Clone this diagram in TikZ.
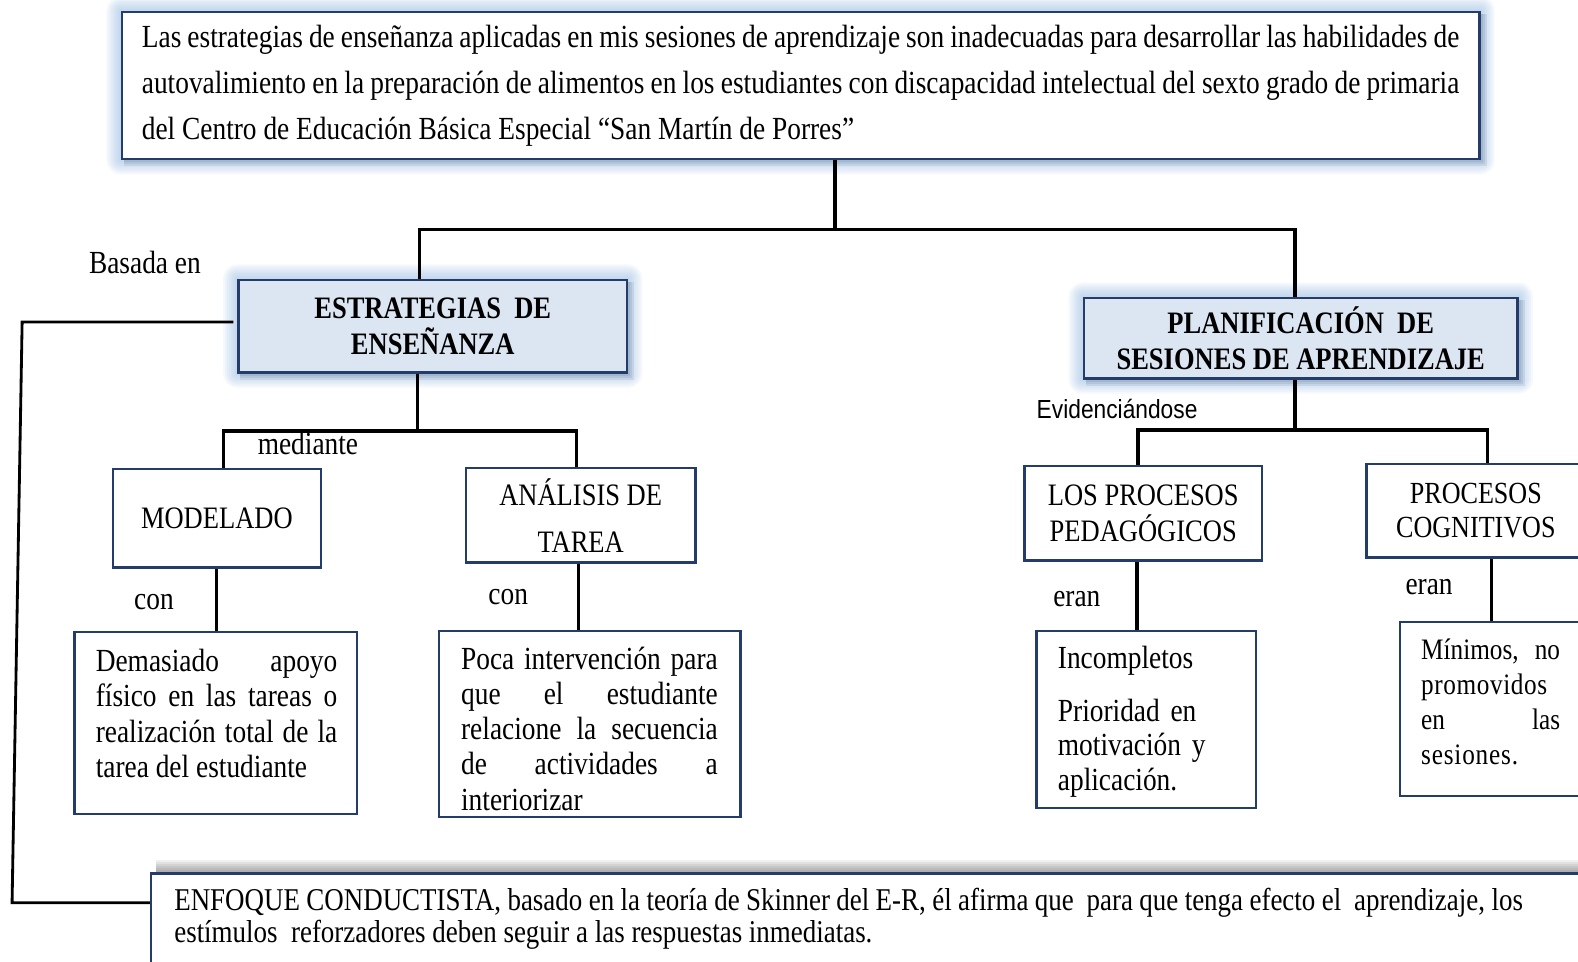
\documentclass[tikz,border=0pt]{standalone}
\usepackage{fontspec}
\setmainfont{Liberation Serif}[FakeStretch=0.85]
\newfontfamily\sansfam{Liberation Sans}[FakeStretch=0.87]
\usetikzlibrary{backgrounds,calc}
\definecolor{navy}{RGB}{36,60,105}
\definecolor{lightblue}{RGB}{220,230,242}
\definecolor{glowc}{RGB}{140,180,225}
\definecolor{shadowc}{RGB}{90,110,140}
\newcommand\glowit[1]{%
  \foreach \d in {2,4,...,14}{%
    \fill[glowc, opacity=0.085, rounded corners=\d pt]
      ([xshift=-\d pt, yshift=-\d pt]#1.south west) rectangle ([xshift=\d pt, yshift=\d pt]#1.north east);}%
  \foreach \d in {2,4,6}{%
    \fill[shadowc, opacity=0.12]
      ([xshift=3pt, yshift=-\d pt]#1.south west) rectangle ([xshift=\d pt, yshift=-3pt]#1.north east);}%
}
\begin{document}
\begin{tikzpicture}[x=1pt,y=-1pt,
  box/.style={draw=navy, line width=2.4pt, fill=white, inner sep=0pt},
  bluebox/.style={box, fill=lightblue, align=center, font=\fontsize{31}{36}\selectfont\bfseries},
  tbox/.style={box, align=center, font=\fontsize{31}{35}\selectfont},
  conn/.style={line width=3.6pt, black},
  thinconn/.style={line width=2.8pt, black},
  lbl/.style={font=\fontsize{32}{34}\selectfont, inner sep=0pt, anchor=base},
  body/.style={inner sep=0pt, anchor=base west, align=justify}]
\useasboundingbox (0,0) rectangle (1568,955);
\begin{scope}[on background layer]
  \fill[white] (0,0) rectangle (1568,955);
\end{scope}

% ---------- boxes ----------
\node[box, minimum width=1349pt, minimum height=146pt, text width=1309pt, align=justify,
      font=\fontsize{32}{45.5}\selectfont] (top) at (795.5,85)
 {Las estrategias de enseñanza aplicadas en mis sesiones de aprendizaje son inadecuadas para desarrollar las habilidades de\linebreak
  autovalimiento en la preparación de alimentos en los estudiantes con discapacidad intelectual del sexto grado de primaria\linebreak
  del Centro de Educación Básica Especial “San Martín de Porres”};

\node[bluebox, minimum width=386pt, minimum height=92pt] (estr) at (430,324) {ESTRATEGIAS\ \ DE\\ENSEÑANZA};
\node[bluebox, minimum width=431pt, minimum height=80pt] (plan) at (1292.5,336) {PLANIFICACIÓN\ \ DE\\SESIONES DE APRENDIZAJE};

\node[tbox, minimum width=207pt, minimum height=98pt] (model) at (215.5,515) {MODELADO};
\node[tbox, minimum width=228pt, minimum height=94pt, font=\fontsize{31}{47}\selectfont] (anal) at (577,512) {ANÁLISIS DE\\TAREA};
\node[tbox, minimum width=236pt, minimum height=94pt] (lospro) at (1136,510) {LOS PROCESOS\\PEDAGÓGICOS};
\node[tbox, minimum width=217pt, minimum height=93pt, font=\fontsize{30.5}{34}\selectfont] (cogn) at (1466.5,507.5) {PROCESOS\\COGNITIVOS};

\node[box, minimum width=281pt, minimum height=181pt] (dem) at (214.5,718.5) {};
\node[box, minimum width=300pt, minimum height=185pt] (poca) at (586,719.5) {};
\node[box, minimum width=218pt, minimum height=176pt] (incomp) at (1139,715) {};
\node[box, minimum width=187pt, minimum height=173pt] (min) at (1484.5,704.5) {};
\node[box, minimum width=1420pt, minimum height=107pt] (enf) at (860,921.5) {};

% ---------- body texts ----------
\node[body, text width=240pt, font=\fontsize{32}{35.3}\selectfont] (demtxt) at (95,667)
 {Demasiado apoyo\linebreak físico en las tareas o\linebreak realización total de la\linebreak tarea del estudiante};
\node[body, text width=255pt, font=\fontsize{32}{35}\selectfont] (pocatxt) at (458,665)
 {Poca intervención para\linebreak que el estudiante\linebreak relacione la secuencia\linebreak de actividades a\linebreak interiorizar};
\node[body, text width=180pt, align=left, font=\fontsize{32}{34}\selectfont] (incomptxt) at (1051,664)
 {Incompletos\\[19pt]Prioridad en\\motivación y\\aplicación.};
\node[body, text width=138pt, font=\fontsize{29.5}{35}\selectfont] (mintxt) at (1412,655)
 {Mínimos,~no\linebreak p\kern0.6pt r\kern0.6pt o\kern0.6pt m\kern0.6pt o\kern0.6pt v\kern0.6pt i\kern0.6pt d\kern0.6pt o\kern0.6pt s\linebreak en las\linebreak s\kern0.8pt e\kern0.8pt s\kern0.8pt i\kern0.8pt o\kern0.8pt n\kern0.8pt e\kern0.8pt s\kern0.8pt .};
\node[body, text width=1340pt, font=\fontsize{31.5}{32}\selectfont] (enftxt) at (173,905)
 {ENFOQUE CONDUCTISTA, basado en la teoría de Skinner del E-R, él afirma que\ \ para que tenga efecto el\ \ aprendizaje, los\linebreak
  estímulos\ \ reforzadores deben seguir a las respuestas inmediatas.};

% ---------- labels ----------
\node[lbl] (basada) at (144,272) {Basada en};
\node[lbl] (mediante) at (306,452) {mediante};
\node[lbl] (con1) at (153,606) {con};
\node[lbl] (con2) at (505,601) {con};
\node[lbl, font=\sansfam\fontsize{26}{28}\selectfont] (evid) at (1110,416) {Evidenciándose};
\node[lbl] (eran1) at (1070,603) {eran};
\node[lbl] (eran2) at (1420,591) {eran};

% ---------- glows / shadows ----------
\begin{scope}[on background layer]
  \glowit{top}
  \glowit{estr}
  \glowit{plan}
  \foreach \d in {2,4,...,12}{%
    \fill[black, opacity=0.06]
      ([xshift=6pt]enf.north west) rectangle ([xshift=-2pt, yshift=\d pt]enf.north east);}
\end{scope}

% ---------- connectors ----------
\coordinate (j0) at (830,228);
\coordinate (x417) at (417,0);
\coordinate (x1287) at (1287,0);
\draw[conn] (top.south -| j0) -- (j0);
\draw[conn] (estr.north -| x417) |- (j0) -| (plan.north -| x1287);

\coordinate (c1) at (22,320);
\coordinate (c2) at (12,897);
\draw[thinconn] ([xshift=-4pt]estr.west |- c1) -- (c1) -- (c2) -- (enf.west |- c2);

\coordinate (j1) at (415,428);
\coordinate (x222) at (222,0);
\coordinate (x573) at (573,0);
\draw[conn] (estr.south -| j1) -- (j1);
\draw[conn] (model.north -| x222) |- (j1) -| (anal.north -| x573);

\coordinate (x215) at (215,0);
\draw[conn] (model.south -| x215) -- (dem.north -| x215);
\coordinate (x575) at (575,0);
\draw[conn] (anal.south -| x575) -- (poca.north -| x575);

\coordinate (j2) at (1287,427);
\coordinate (x1131) at (1131,0);
\coordinate (x1478) at (1478,0);
\draw[conn] (plan.south -| j2) -- (j2);
\draw[conn] (lospro.north -| x1131) |- (j2) -| (cogn.north -| x1478);

\coordinate (x1130) at (1130,0);
\draw[conn] (lospro.south -| x1130) -- (incomp.north -| x1130);
\coordinate (x1482) at (1482,0);
\draw[conn] (cogn.south -| x1482) -- (min.north -| x1482);
\end{tikzpicture}
\end{document}
